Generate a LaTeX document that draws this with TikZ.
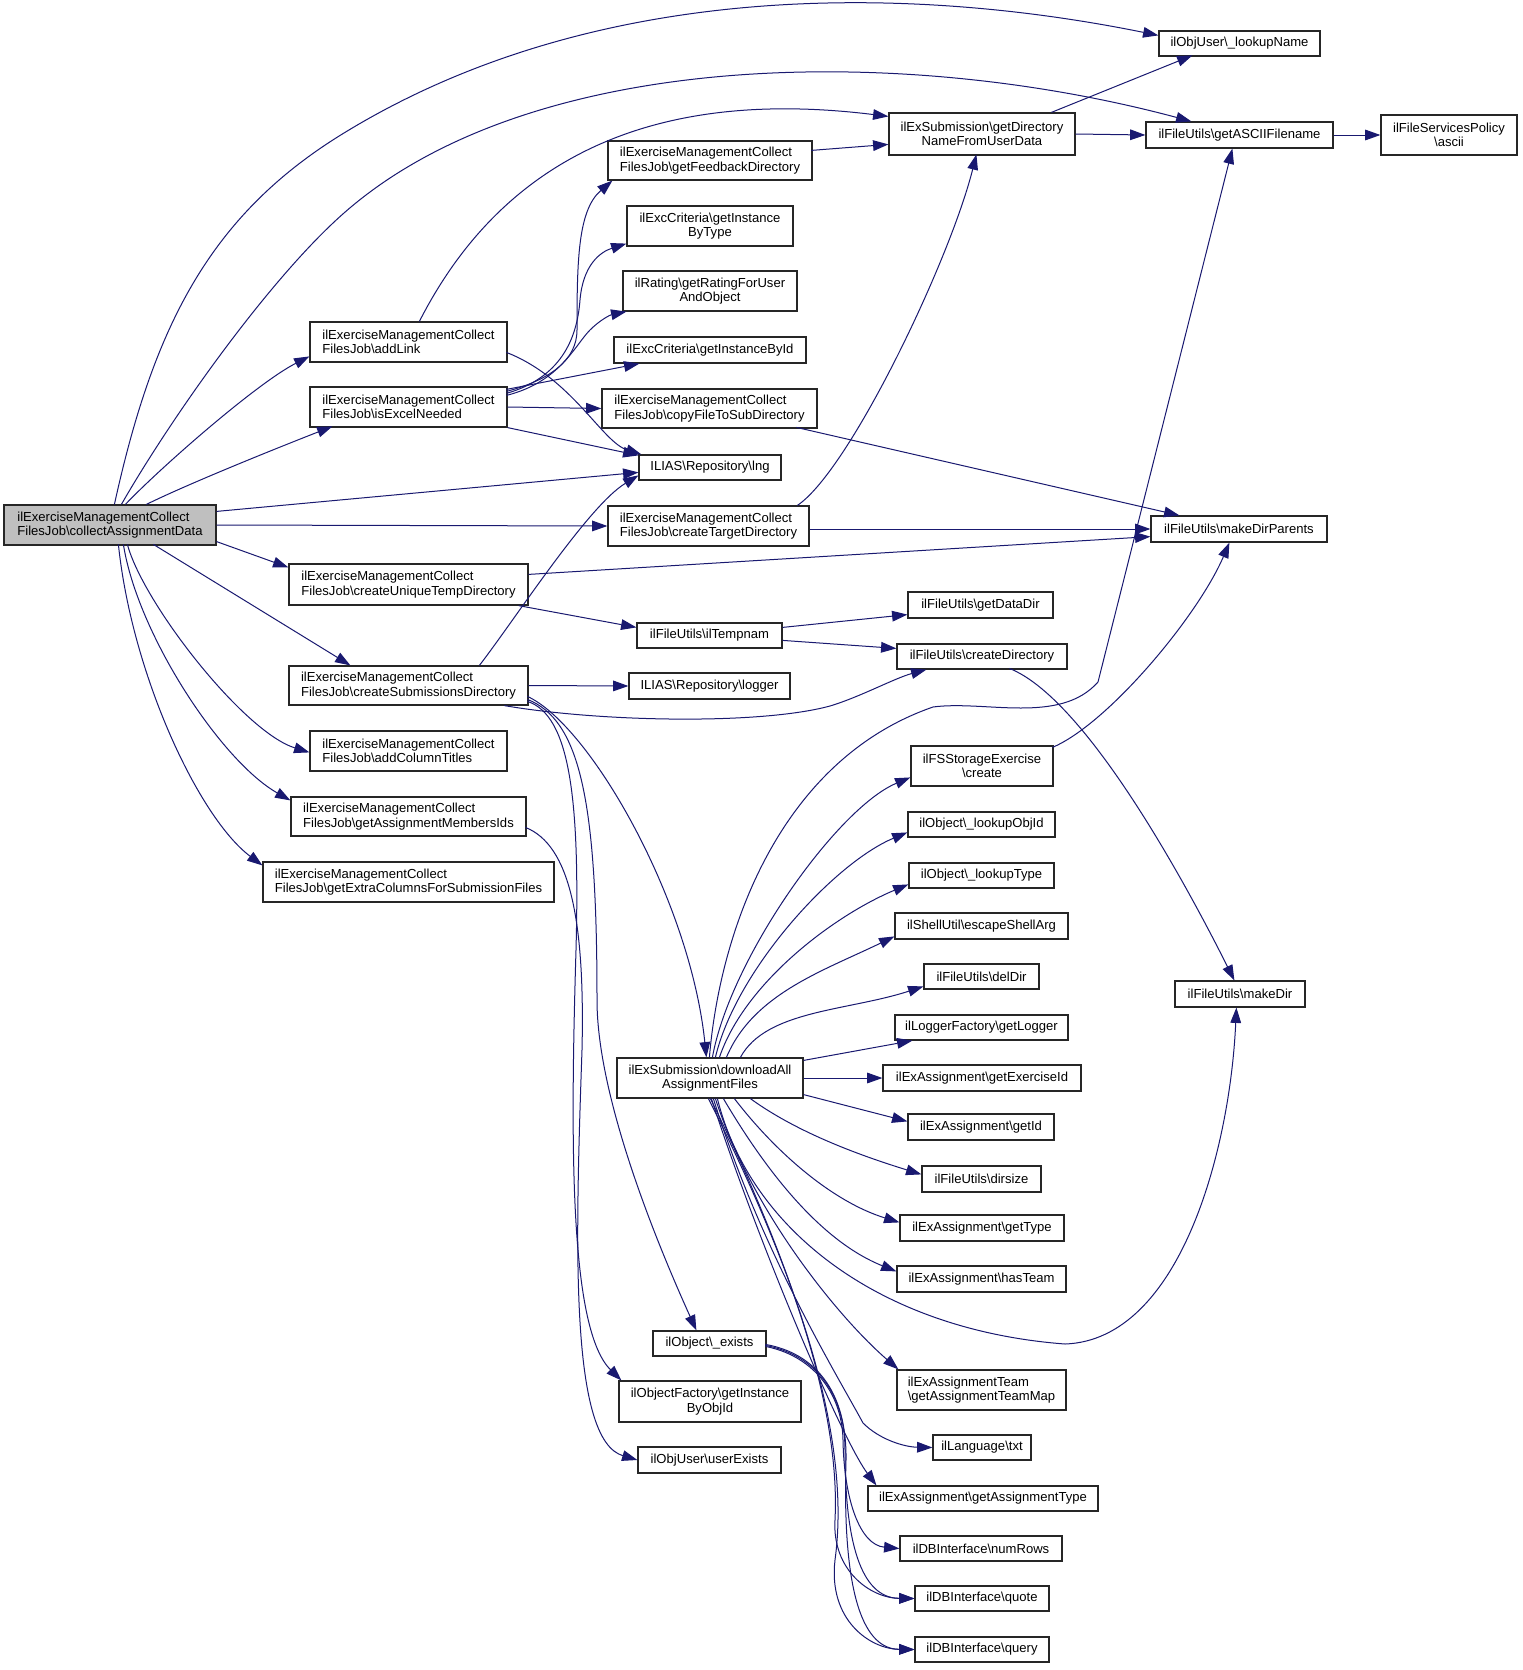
\documentclass[tikz,border=0pt]{standalone}
\usepackage{fontspec}
\setmainfont{Liberation Sans}
\usetikzlibrary{arrows.meta,calc}
\definecolor{edgec}{HTML}{191970}
\newcommand\bsl{\textbackslash}
\newcommand\mkbox[7][]{\node[box,#1,minimum width={(#5-#3)*0.75pt},minimum height={(#6-#4)*0.75pt}] (#2) at ({(#3+#5)/2},{(#4+#6)/2}) {#7};}
\begin{document}
\begin{tikzpicture}[x=0.75pt,y=-0.75pt,
  box/.style={draw=black!85,line width=0.9pt,fill=white,inner sep=0pt,align=center,font=\fontsize{9.8}{10.8}\selectfont},
  lbox/.style={align=left},
  e/.style={draw=edgec,line width=0.75pt,-{Triangle[length=11.5pt,width=8pt]}}]
\fill[white] (0,0) rectangle (1523,1670);
\useasboundingbox (0,0) rectangle (1523,1670);
% nodes
\mkbox[lbox,fill=black!25]{main}{4}{505}{216}{545}{ilExerciseManagementCollect\\FilesJob\bsl collectAssignmentData}
\mkbox{lkn}{1159}{31}{1320}{56}{ilObjUser\bsl\_lookupName}
\mkbox{gaf}{1146}{122}{1333}{148}{ilFileUtils\bsl getASCIIFilename}
\mkbox{asc}{1381}{115}{1517}{155}{ilFileServicesPolicy\\\bsl ascii}
\mkbox{gdn}{889}{113}{1075}{155}{ilExSubmission\bsl getDirectory\\NameFromUserData}
\mkbox[lbox]{fb}{608}{141}{812}{180}{ilExerciseManagementCollect\\FilesJob\bsl getFeedbackDirectory}
\mkbox{gibt}{627}{206}{793}{246}{ilExcCriteria\bsl getInstance\\ByType}
\mkbox{rat}{623}{271}{797}{311}{ilRating\bsl getRatingForUser\\AndObject}
\mkbox{gibi}{614}{337}{806}{363}{ilExcCriteria\bsl getInstanceById}
\mkbox[lbox]{cpy}{602}{389}{817}{428}{ilExerciseManagementCollect\\FilesJob\bsl copyFileToSubDirectory}
\mkbox{lng}{639}{455}{781}{480}{ILIAS\bsl Repository\bsl lng}
\mkbox[lbox]{adl}{310}{322}{507}{362}{ilExerciseManagementCollect\\FilesJob\bsl addLink}
\mkbox[lbox]{isx}{310}{387}{507}{427}{ilExerciseManagementCollect\\FilesJob\bsl isExcelNeeded}
\mkbox[lbox]{ctd}{608}{506}{809}{546}{ilExerciseManagementCollect\\FilesJob\bsl createTargetDirectory}
\mkbox{mdp}{1151}{516}{1327}{542}{ilFileUtils\bsl makeDirParents}
\mkbox[lbox]{cutd}{289}{564}{528}{605}{ilExerciseManagementCollect\\FilesJob\bsl createUniqueTempDirectory}
\mkbox{tmp}{637}{623}{782}{648}{ilFileUtils\bsl ilTempnam}
\mkbox{gdd}{908}{592}{1053}{618}{ilFileUtils\bsl getDataDir}
\mkbox{cdir}{897}{644}{1067}{669}{ilFileUtils\bsl createDirectory}
\mkbox[lbox]{csd}{289}{666}{528}{705}{ilExerciseManagementCollect\\FilesJob\bsl createSubmissionsDirectory}
\mkbox{log}{629}{673}{790}{699}{ILIAS\bsl Repository\bsl logger}
\mkbox[lbox]{act}{310}{731}{507}{771}{ilExerciseManagementCollect\\FilesJob\bsl addColumnTitles}
\mkbox[lbox]{gami}{291}{797}{526}{836}{ilExerciseManagementCollect\\FilesJob\bsl getAssignmentMembersIds}
\mkbox[lbox]{gec}{263}{862}{554}{902}{ilExerciseManagementCollect\\FilesJob\bsl getExtraColumnsForSubmissionFiles}
\mkbox{fss}{911}{746}{1053}{786}{ilFSStorageExercise\\\bsl create}
\mkbox{loi}{908}{812}{1055}{837}{ilObject\bsl\_lookupObjId}
\mkbox{lot}{909}{863}{1054}{888}{ilObject\bsl\_lookupType}
\mkbox{esc}{895}{913}{1068}{939}{ilShellUtil\bsl escapeShellArg}
\mkbox{deld}{924}{964}{1039}{989}{ilFileUtils\bsl delDir}
\mkbox{glog}{895}{1015}{1068}{1040}{ilLoggerFactory\bsl getLogger}
\mkbox{gex}{883}{1065}{1081}{1091}{ilExAssignment\bsl getExerciseId}
\mkbox{dl}{617}{1058}{803}{1098}{ilExSubmission\bsl downloadAll\\AssignmentFiles}
\mkbox{gid}{908}{1114}{1054}{1140}{ilExAssignment\bsl getId}
\mkbox{dsz}{922}{1166}{1041}{1192}{ilFileUtils\bsl dirsize}
\mkbox{gty}{900}{1215}{1064}{1241}{ilExAssignment\bsl getType}
\mkbox{hteam}{897}{1266}{1066}{1292}{ilExAssignment\bsl hasTeam}
\mkbox[lbox]{team}{897}{1370}{1066}{1410}{ilExAssignmentTeam\\\bsl getAssignmentTeamMap}
\mkbox{txt}{933}{1435}{1031}{1460}{ilLanguage\bsl txt}
\mkbox{gat}{868}{1486}{1098}{1511}{ilExAssignment\bsl getAssignmentType}
\mkbox{nrow}{900}{1536}{1062}{1561}{ilDBInterface\bsl numRows}
\mkbox{quo}{915}{1586}{1049}{1611}{ilDBInterface\bsl quote}
\mkbox{qry}{915}{1637}{1049}{1662}{ilDBInterface\bsl query}
\mkbox{exi}{653}{1331}{766}{1356}{ilObject\bsl\_exists}
\mkbox{gio}{619}{1381}{801}{1422}{ilObjectFactory\bsl getInstance\\ByObjId}
\mkbox{ue}{638}{1447}{781}{1473}{ilObjUser\bsl userExists}
\mkbox{mkd}{1175}{981}{1305}{1007}{ilFileUtils\bsl makeDir}
% edges from main
\draw[e] ($(main.north west)+(111,0)$) .. controls (153,329) and (208,216) .. (344,133) .. controls (599,-23) and (915,-14) .. ($(lkn.north west)+(0,5)$);
\draw[e] ($(main.north west)+(118,0)$) .. controls (171,418) and (269,279) .. (344,213) .. controls (531.5,48) and (902.5,44) .. ($(gaf.north west)+(46,0)$);
\draw[e] ($(main.north west)+(122,0)$) .. controls (160,468) and (257,383) .. ($(adl.north west)+(0,35)$);
\draw[e] ($(main.north west)+(143,0)$) .. controls (192,482) and (286,444.5) .. ($(isx.north west)+(23,40)$);
\draw[e] ($(main.north east)+(0,7)$) -- ($(lng.north west)+(0,18)$);
\draw[e] (main.east) -- (ctd.west);
\draw[e] ($(main.south east)+(0,-4)$) -- ($(cutd.north west)+(0,4)$);
\draw[e] ($(main.north west)+(150,40)$) -- ($(csd.north west)+(62,0)$);
\draw[e] ($(main.north west)+(124,40)$) .. controls (143,603) and (243.5,732) .. ($(act.north west)+(0,22)$);
\draw[e] ($(main.north west)+(120,40)$) .. controls (137.5,634) and (221,761) .. ($(gami.north west)+(0,4)$);
\draw[e] ($(main.north west)+(115,40)$) .. controls (132,675) and (199,818) .. ($(gec.north west)+(0,4)$);
% addLink
\draw[e] ($(adl.north west)+(110,0)$) .. controls (519,126) and (699,93) .. ($(gdn.north west)+(0,4)$);
\draw[e] ($(adl.north west)+(197,31)$) .. controls (572,378) and (602,442) .. ($(lng.north west)+(3,0)$);
% isExcelNeeded
\draw[e] ($(isx.north west)+(197,5)$) .. controls (550,380) and (577,360) .. (577,330) .. controls (577,260) and (578,210) .. ($(fb.south west)+(5,0)$);
\draw[e] ($(isx.north west)+(197,7)$) .. controls (560,378) and (577,340) .. (580,300) .. controls (583,265) and (600,252) .. ($(gibt.south west)+(0,-3)$);
\draw[e] ($(isx.north west)+(197,9)$) .. controls (560,382) and (575,345) .. (590,330) .. controls (600,320) and (610,315) .. ($(rat.south west)+(4,0)$);
\draw[e] ($(isx.north west)+(197,3)$) -- ($(gibi.south west)+(26,0)$);
\draw[e] (isx.east) -- (cpy.west);
\draw[e] (isx.south east) -- ($(lng.north west)+(0,1)$);
% others
\draw[e] ($(fb.north west)+(204,10)$) -- ($(gdn.north west)+(0,32)$);
\draw[e] ($(gdn.north west)+(163,0)$) -- ($(lkn.north west)+(34,25)$);
\draw[e] (gdn.east) -- (gaf.west);
\draw[e] (gaf.east) -- (asc.west);
\draw[e] ($(cpy.north west)+(195,39)$) -- ($(mdp.north west)+(29,0)$);
\draw[e] ($(ctd.north west)+(190,0)$) .. controls (850,470) and (950,260) .. ($(gdn.north west)+(88,42)$);
\draw[e] ($(ctd.east)+(0,3)$) -- (mdp.west);
\draw[e] ($(cutd.north east)+(0,11)$) -- ($(mdp.south west)+(0,-6)$);
\draw[e] ($(cutd.south east)+(-10,0)$) -- ($(tmp.north west)+(0,5)$);
\draw[e] ($(tmp.north east)+(0,5)$) -- ($(gdd.south west)+(0,-4)$);
\draw[e] ($(tmp.north east)+(0,18)$) -- ($(cdir.north west)+(0,5)$);
\draw[e] ($(cdir.north west)+(113,25)$) .. controls (1084,698) and (1181,874) .. ($(mkd.north west)+(60,0)$);
% createSubmissionsDirectory
\draw[e] ($(csd.north west)+(191,0)$) .. controls (516,618) and (588,506) .. ($(lng.north west)+(0,21)$);
\draw[e] (csd.east) -- (log.west);
\draw[e] ($(csd.south west)+(216,0)$) .. controls (600,722) and (760,725) .. (830,706) .. controls (860,697) and (895,678) .. ($(cdir.south west)+(30,0)$);
\draw[e] ($(csd.north west)+(239,31)$) .. controls (590,725) and (690,900) .. ($(dl.north west)+(90,0)$);
\draw[e] ($(csd.north west)+(239,34)$) .. controls (580,720) and (597,800) .. (597,1000) .. controls (597,1100) and (660,1250) .. ($(exi.north west)+(44,0)$);
\draw[e] ($(csd.north west)+(239,36)$) .. controls (570,715) and (580,800) .. (576,950) .. controls (570,1150) and (570,1330) .. ($(gio.north west)+(3,0)$);
\draw[e] ($(gami.north west)+(235,31)$) .. controls (570,845) and (585,920) .. (582,1050) .. controls (575,1250) and (570,1440) .. (ue.west);
% downloadAll fan
\draw[e] ($(dl.north west)+(93,0)$) .. controls (720,930) and (780,760) .. (933,707) .. controls (985,700) and (1060,725) .. (1098,682) -- ($(gaf.south west)+(87,0)$);
\draw[e] ($(dl.north west)+(96,0)$) .. controls (730,959) and (837,808) .. ($(fss.north west)+(0,32)$);
\draw[e] ($(dl.north west)+(99,0)$) .. controls (736,970) and (834,863) .. ($(loi.north west)+(0,21)$);
\draw[e] ($(dl.north west)+(103,0)$) .. controls (745,982) and (835,915) .. ($(lot.north west)+(0,22)$);
\draw[e] ($(dl.north west)+(110,0)$) .. controls (753,994) and (823,971) .. ($(esc.north west)+(0,24)$);
\draw[e] ($(dl.north west)+(124,0)$) .. controls (766,1010) and (848,1011) .. ($(deld.north west)+(0,23)$);
\draw[e] ($(dl.north east)+(0,3)$) -- ($(glog.south west)+(18,0)$);
\draw[e] (dl.east) -- (gex.west);
\draw[e] ($(dl.south east)+(0,-4)$) -- ($(gid.north west)+(0,8)$);
\draw[e] ($(dl.south west)+(134,0)$) .. controls (799,1134) and (865,1157) .. ($(dsz.north west)+(0,9)$);
\draw[e] ($(dl.south west)+(118,0)$) .. controls (777,1154) and (833.5,1202) .. ($(gty.north west)+(0,8)$);
\draw[e] ($(dl.south west)+(107,0)$) .. controls (769,1176) and (823,1242) .. ($(hteam.north west)+(0,6)$);
\draw[e] ($(dl.south west)+(101,0)$) .. controls (750,1230) and (880,1330) .. (1065,1344) .. controls (1180,1340) and (1230,1150) .. ($(mkd.south west)+(62,0)$);
\draw[e] ($(dl.south west)+(99,0)$) .. controls (752,1212) and (839,1318) .. ($(team.north west)+(2,0)$);
\draw[e] ($(dl.south west)+(97,0)$) .. controls (760,1250) and (840,1380) .. (863,1423) .. controls (880,1440) and (905,1447) .. (txt.west);
\draw[e] ($(dl.south west)+(95,0)$) .. controls (757,1240) and (841,1438) .. ($(gat.north west)+(9,0)$);
\draw[e] ($(dl.south west)+(94,0)$) .. controls (800,1280) and (840,1420) .. (835,1520) .. controls (832,1570) and (870,1598) .. (quo.west);
\draw[e] ($(dl.south west)+(92,0)$) .. controls (810,1300) and (850,1450) .. (835,1560) .. controls (828,1620) and (870,1649) .. (qry.west);
% _exists
\draw[e] ($(exi.north west)+(113,16)$) .. controls (810,1355) and (842,1390) .. (843,1440) .. controls (844,1500) and (860,1545) .. (nrow.west);
\draw[e] ($(exi.north west)+(113,15)$) .. controls (812,1354) and (845,1390) .. (845,1450) .. controls (845,1540) and (860,1598) .. (quo.west);
\draw[e] ($(exi.north west)+(113,14)$) .. controls (814,1353) and (847,1390) .. (846,1460) .. controls (842,1600) and (865,1649) .. (qry.west);
% FSStorage
\draw[e] ($(fss.north west)+(142,2)$) .. controls (1108,724) and (1198,616) .. ($(mdp.south west)+(79,0)$);
\end{tikzpicture}
\end{document}
